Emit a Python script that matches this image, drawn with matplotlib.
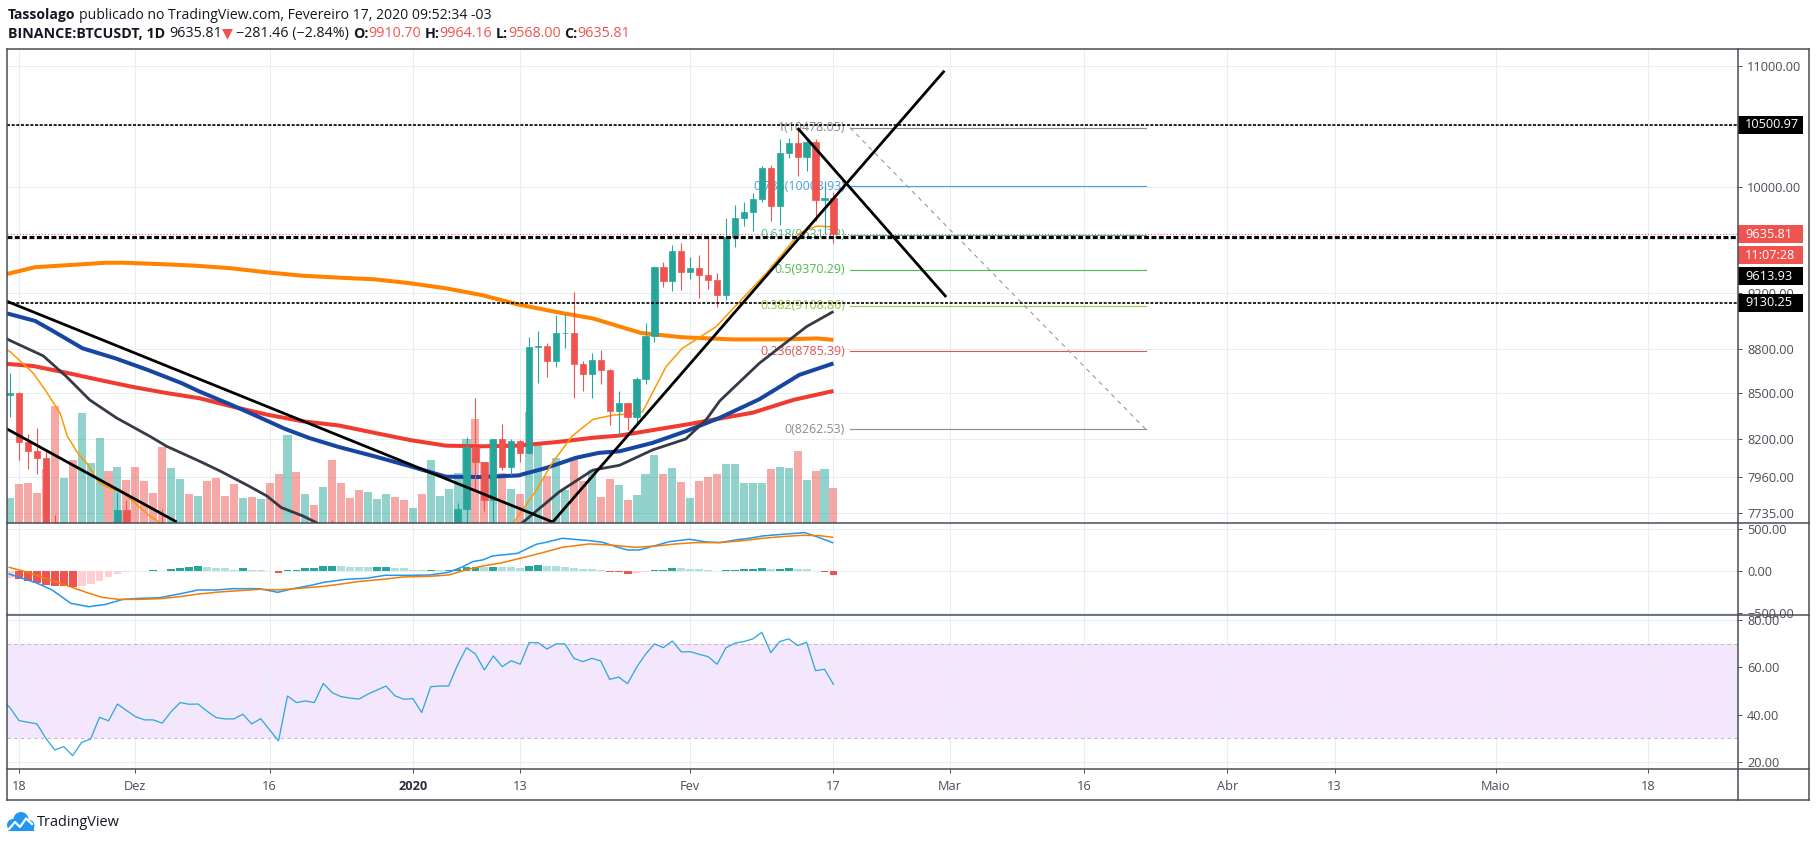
import datetime as dt
import numpy as np
import matplotlib
matplotlib.use("Agg")
import matplotlib.pyplot as plt
from matplotlib.patches import Rectangle, Circle, Polygon
from matplotlib.lines import Line2D
from matplotlib.ticker import NullLocator, NullFormatter
from matplotlib.transforms import blended_transform_factory, offset_copy, IdentityTransform

plt.rcParams['font.family'] = ['Open Sans', 'DejaVu Sans']

# ======================= DATA =======================
day0 = dt.date(2019, 11, 18)            # day index 0
first_candle = dt.date(2019, 11, 16)    # first daily candle

opens = [8460, 8491, 8502, 8178, 8125, 8080, 7617, 7290, 7321, 6900, 7111, 7163, 7523, 7430, 7755,
         7547, 7403, 7300, 7292, 7198, 7389, 7526, 7505, 7525, 7337, 7223, 7205, 7193, 7250, 7062, 7111,
         6881, 6612, 7277, 7151, 7190, 7145, 7512, 7317, 7255, 7205, 7195, 7247, 7303, 7386, 7221,
         7195, 7200, 6965, 7345, 7354, 7358, 7758, 8146, 8055, 7818, 8198, 8020, 8185, 8111, 8815, 8822,
         8720, 8914, 8916, 8700, 8630, 8725, 8660, 8385, 8435, 8340, 8600, 8890, 9390, 9285, 9505,
         9351, 9385, 9331, 9293, 9181, 9617, 9755, 9804, 9903, 10152, 9854, 10270, 10350, 10238, 10364,
         9900, 9910.70]
highs = [8540, 8638, 8510, 8230, 8270, 8125, 7725, 7353, 7337, 7372, 7344, 7655, 7650, 7860, 7818,
         7547, 7420, 7400, 7760, 7489, 7599, 7620, 7570, 7660, 7400, 7275, 7270, 7310, 7275, 7165, 7140,
         6944, 7440, 7380, 7220, 7190, 7518, 7695, 7436, 7272, 7435, 7267, 7365, 7518, 7408, 7320,
         7255, 7212, 7405, 7405, 7495, 7796, 8214, 8468, 8055, 8199, 8297, 8197, 8196, 8884, 8929, 8846,
         9042, 9050, 9208, 8720, 8776, 8792, 8666, 8518, 8435, 8608, 8985, 9400, 9425, 9557, 9570,
         9466, 9478, 9615, 9345, 9755, 9857, 9885, 9950, 10166, 10174, 10387, 10395, 10478, 10397, 10389,
         10050, 9964.16]
lows = [8411, 8342, 8064, 8006, 7980, 7510, 6791, 7100, 6860, 6515, 7007, 6861, 7360, 7405, 7500,
        7240, 7225, 7250, 7086, 7150, 7335, 7480, 7400, 7290, 7170, 7130, 7075, 7170, 7035, 7024, 6852,
        6560, 6435, 7040, 7080, 7100, 7120, 7265, 7157, 7128, 7157, 7057, 7238, 7273, 7220, 7145,
        7175, 6925, 6872, 7273, 7319, 7347, 7655, 7870, 7750, 7672, 8000, 7970, 8055, 8105, 8572, 8611,
        8675, 8810, 8467, 8515, 8470, 8560, 8292, 8220, 8255, 8288, 8560, 8852, 9240, 9211, 9224,
        9301, 9163, 9225, 9100, 9152, 9535, 9700, 9658, 9883, 9735, 9704, 10233, 10086, 10125, 9736,
        9640, 9568.00]
closes = [8491, 8502, 8178, 8125, 8080, 7617, 7290, 7321, 6900, 7111, 7163, 7523, 7430, 7755, 7547,
          7403, 7300, 7292, 7198, 7389, 7526, 7505, 7525, 7337, 7223, 7205, 7193, 7250, 7062, 7111, 6881,
          6612, 7277, 7151, 7190, 7145, 7512, 7317, 7255, 7205, 7195, 7247, 7303, 7386, 7221, 7195,
          7200, 6965, 7345, 7354, 7358, 7758, 8146, 8055, 7818, 8198, 8020, 8185, 8111, 8815, 8822, 8720,
          8914, 8916, 8700, 8630, 8725, 8660, 8385, 8435, 8340, 8600, 8890, 9390, 9285, 9505, 9351,
          9385, 9331, 9293, 9181, 9617, 9755, 9804, 9903, 10152, 9854, 10270, 10350, 10238, 10364, 9900,
          9917, 9635.81]
volume_k = [30, 25, 39, 40, 30, 54, 117, 45, 63, 110, 60, 85, 52, 56, 43,
            56, 42, 30, 76, 55, 44, 29, 27, 42, 45, 27, 39, 25, 26, 24, 40, 49, 88, 51, 29, 18, 36, 63,
            40, 25, 33, 31, 24, 29, 26, 23,
            15, 29, 63, 27, 34, 50, 84, 104, 61, 83, 50, 34, 29, 111, 79, 47, 65, 33, 64, 42, 53, 26, 44,
            38, 23, 28, 49, 68, 49, 55, 41,
            25, 42, 46, 49, 59, 59, 40, 40, 40, 54, 56, 55, 72, 43, 52, 54, 35]

rsi = [47.0, 42.9, 37.5, 36.8, 36.1, 30.0, 25.1, 26.5, 22.7, 28.3, 29.7, 38.9, 37.4, 44.5, 41.8,
       39.2, 37.8, 37.8, 36.4, 41.3, 45.1, 44.4, 44.5, 41.5, 38.8, 38.2, 38.2, 40.2, 36.1, 38.3, 33.6,
       28.9, 47.9, 45.1, 45.8, 45.1, 53.2, 49.3, 47.6, 47.0, 46.6, 48.7, 50.4, 52.1, 48.0, 46.5,
       46.8, 40.9, 51.8, 52.1, 52.1, 61.0, 68.3, 65.6, 58.9, 64.8, 60.3, 62.8, 61.3, 70.4, 70.4, 67.7,
       69.9, 69.9, 63.8, 62.4, 63.8, 62.7, 54.9, 55.9, 53.1, 60.0, 65.5, 69.9, 68.3, 71.1, 66.5,
       66.6, 65.5, 64.5, 61.3, 68.3, 70.2, 70.9, 72.0, 74.8, 66.2, 70.9, 72.0, 69.2, 70.6, 58.6,
       59.2, 52.8]
macd_hist = [-95, -85, -100, -117, -141, -169, -177, -180, -193, -181, -161, -117, -76, -36, -15,
             -5, 3, 10, 5, 20, 32, 48, 64, 48, 32, 32, 16, 32, 16, 16, -3,
             -28, 8, 16, 32, 34, 60, 62, 56, 44, 44, 44, 46, 48, 32, 32,
             16, 8, 16, 8, 16, 28, 48, 52, 44, 52, 48, 48, 40, 64, 72, 64,
             64, 52, 40, 24, 20, 10, -10, -16, -32, -28, -16, 8, 16, 36, 36,
             28, 28, 8, 0, 8, 16, 18, 24, 36, 24, 28, 36, 28, 28, -3,
             -16, -48]

macd_day = [-1.1, 0, 1.9, 3.7, 5.8, 7.8, 9.7, 11.6, 13.4, 15.7, 17.9, 20, 22, 23.9, 26.9, 28.9,
            30.6, 32.8, 34, 36.6, 38.8, 40.9, 44, 45.9, 48, 49.6, 50.7, 51.8, 52.9, 55.7, 57.8, 58.9,
            60.7, 61.9, 63.7, 65.2, 66.7, 68, 69.3, 70.4, 72.7, 74.9, 76.8, 78.3, 80.1, 81.6, 83.1,
            85.3, 87.8, 89.1, 90.9]
macd_val = [-36, -76, -141, -229, -390, -430, -402, -342, -330, -322, -277, -229, -229, -213, -213,
            -257, -213, -169, -137, -100, -88, -52, -52, -48, -16, 52, 113, 133, 181, 213, 322, 346,
            394, 382, 366, 346, 293, 253, 253, 285, 354, 382, 350, 342, 374, 394, 422, 442, 462, 414, 342]
signal_day = [-1.1, 0.7, 3, 5.2, 7.5, 9.3, 11.2, 13.4, 15.7, 17.9, 20.1, 22.4, 24.6, 26.9, 28.9,
              31.3, 33.6, 35.8, 38.1, 40.7, 42.9, 45.9, 48, 49.9, 51.8, 54, 56.3, 58.5, 60.7, 63.7,
              65.9, 68.9, 71.2, 73.4, 75.6, 78.3, 80.9, 83.1, 85.3, 87.5, 89.4, 90.9]
signal_val = [44, -8, -88, -169, -257, -318, -342, -342, -334, -310, -277, -253, -237, -221, -228,
              -209, -189, -160, -125, -100, -72, -64, -48, 12, 60, 100, 161, 221, 285, 326,
              314, 285, 301, 326, 342, 342, 366, 394, 414, 430, 426, 406]

# moving averages (day index, price)
ma_orange_day = [-1.5, 1.8, 5.7, 9.7, 11.7, 15.7, 19.7, 23.7, 27.7, 31.7, 35.7, 39.7, 43.7, 47.7,
                 51.7, 55.8, 60.4, 64.1, 69.5, 74.1, 79.7, 85.3, 89.1, 91]
ma_orange_val = [9335, 9388, 9404, 9421, 9421, 9411, 9399, 9380, 9350, 9325, 9311, 9299, 9270, 9233,
                 9184, 9116, 9058, 9017, 8914, 8884, 8869, 8869, 8876, 8866]
ma_blue_day = [-1.5, 1.8, 3.6, 7.1, 10.8, 14.4, 18.2, 20.1, 23.7, 26.5, 29.7, 32.5, 35.7, 39.7, 43.7,
               47.7, 51.7, 55.8, 58.9, 62.2, 64.8, 67.1, 70.8, 74.5, 78.3, 82.7, 87.2, 91]
ma_blue_val = [9055, 8999, 8935, 8807, 8737, 8658, 8568, 8514, 8424, 8351, 8266, 8205, 8149, 8089,
               8026, 7960, 7958, 7968, 8015, 8079, 8111, 8121, 8175, 8250, 8338, 8460, 8625, 8703]
ma_red_day = [-1.5, 1.6, 5.3, 9.0, 12.8, 16.5, 20.2, 23.7, 27.7, 31.7, 35.7, 39.7, 43.7, 47.7, 51.7,
              55.7, 60.4, 64.1, 67.1, 74.5, 82, 86.5, 91]
ma_red_val = [8700, 8685, 8639, 8590, 8542, 8502, 8467, 8414, 8359, 8315, 8288, 8240, 8193, 8157,
              8153, 8157, 8182, 8208, 8222, 8293, 8372, 8456, 8516]
ma_gray_day = [-1.5, -1.3, 2.7, 5.3, 7.9, 10.9, 14.6, 16.5, 20.2, 22.5, 25.7, 27.7, 29.3, 31.7, 33.5,
               40, 47, 52, 56.5, 60.4, 64.1, 67.1, 70.8, 74.5, 76.8, 78.3, 82.7, 88, 91]
ma_gray_val = [8880, 8870, 8755, 8613, 8456, 8337, 8218, 8153, 8057, 7995, 7901, 7840, 7769, 7718,
               7670, 7350, 7320, 7500, 7688, 7867, 8001, 8032, 8130, 8200, 8327, 8450, 8703, 8959, 9066]
ma_thin_day = [-1.5, -1, 1.6, 2.9, 4.6, 5.4, 6.55, 7.6, 9.0, 10.2, 11.7, 14.6, 16.0, 20, 30, 40, 48,
               53, 55.3, 57.8, 59.6, 61.8, 64.1, 66.3, 69, 69.7, 72.3, 74.1, 77.9, 83.5, 87.2, 89.1, 91]
ma_thin_val = [8800, 8784, 8636, 8525, 8368, 8218, 8111, 8043, 7920, 7889, 7857, 7718, 7670, 7300,
               7150, 7280, 7450, 7620, 7680, 7876, 8048, 8218, 8327, 8355, 8368, 8380, 8681, 8806,
               8959, 9344, 9642, 9697, 9690]

# drawings: trend lines (day, price) pairs
trend_lines = [((-1.5, 9143), (59.63, 7681)),
               ((-1.5, 8270), (17.62, 7681)),
               ((59.63, 7681), (103.4, 10959)),
               ((87.0, 10475), (103.6, 9170))]
hlines_thin = [10500.97, 9130.25]
hline_thick = 9613.93
last_price = 9635.81
countdown = "11:07:28"

fib_ratio = ['0', '0.236', '0.382', '0.5', '0.618', '0.786', '1']
fib_price = [8262.53, 8785.39, 9108.86, 9370.29, 9631.72, 10003.93, 10478.05]
fib_day = (92.85, 125.9)

price_ticks = [11000, 10500, 10000, 9600, 9200, 8800, 8500, 8200, 7960, 7735]
hidden_price_ticks = [10500, 9600]     # labels covered by the line-label boxes
macd_ticks = [500, 0, -500]
rsi_ticks = [80, 60, 40, 20]
tick_dates = [dt.date(2019, 11, 18), dt.date(2019, 12, 1), dt.date(2019, 12, 16), dt.date(2020, 1, 1),
              dt.date(2020, 1, 13), dt.date(2020, 2, 1), dt.date(2020, 2, 17), dt.date(2020, 3, 1),
              dt.date(2020, 3, 16), dt.date(2020, 4, 1), dt.date(2020, 4, 13), dt.date(2020, 5, 1),
              dt.date(2020, 5, 18)]
tick_labels = ['18', 'Dez', '16', '2020', '13', 'Fev', '17', 'Mar', '16', 'Abr', '13', 'Maio', '18']

# ======================= LAYOUT / STYLE =======================
W, H, DPI = 1817, 842, 100
PL, PR, FR = 7, 1738, 1809
Y_TOP, Y_MACD, Y_RSI, Y_TIME, Y_BOT = 49, 523, 615, 769, 800
X_DAY0, PX_PER_DAY = 19.0, 8.95
VOL_FULL = 474.0
UP, DN = '#26a69a', '#ef5350'
GRID = '#e6edf3'
TXT = '#4a4d57'
FRAME = '#4a4d57'
LBL = 9.2

fig = plt.figure(figsize=(W / DPI, H / DPI), dpi=DPI)
fig.patch.set_facecolor('white')


def frac_rect(x0, y0, x1, y1):
    return [x0 / W, 1 - y1 / H, (x1 - x0) / W, (y1 - y0) / H]


xlim = ((PL - X_DAY0) / PX_PER_DAY, (PR - X_DAY0) / PX_PER_DAY)
ax = fig.add_axes(frac_rect(PL, Y_TOP, PR, Y_MACD))
axm = fig.add_axes(frac_rect(PL, Y_MACD, PR, Y_RSI))
axr = fig.add_axes(frac_rect(PL, Y_RSI, PR, Y_TIME))

tick_days = [(d - day0).days for d in tick_dates]
days = np.arange(len(opens)) + (first_candle - day0).days
o, h, l, c = map(np.asarray, (opens, highs, lows, closes))
up = c >= o
cols = np.where(up, UP, DN)

ax.set_yscale('log')
for a in (ax, axm, axr):
    a.set_xlim(*xlim)
    for s in a.spines.values():
        s.set_visible(False)
    a.set_xticks(tick_days)
    a.tick_params(axis='x', length=0, labelbottom=False)
    a.yaxis.tick_right()
    a.tick_params(axis='y', which='major', length=3, width=0.7, color=TXT, pad=3.5,
                  labelsize=LBL, labelcolor=TXT)
    a.grid(True, color=GRID, lw=0.8)
    a.set_axisbelow(True)
    a.set_facecolor('white')

# ---- main price panel ----
ax.set_ylim(7675, 11148)
ax.set_yticks(price_ticks, labels=['' if p in hidden_price_ticks else f"{p:.2f}" for p in price_ticks])
ax.yaxis.set_minor_locator(NullLocator())
ax.yaxis.set_minor_formatter(NullFormatter())

vol_tr = blended_transform_factory(ax.transData, ax.transAxes)
for d, v, u in zip(days, volume_k, up):
    ax.add_patch(Rectangle((d - 0.45, 0), 0.9, v / VOL_FULL, transform=vol_tr,
                           facecolor=UP if u else DN, alpha=0.5, edgecolor='none', zorder=1))

# fibonacci retracement
fib_cols = ['#8c8c8c', '#e05555', '#94c83e', '#4cbb4c', '#4dbf8f', '#4a9fe0', '#8c8c8c']
lab_tr = offset_copy(ax.transData, fig=fig, x=-5, y=0, units='dots')
for r, p, col in zip(fib_ratio, fib_price, fib_cols):
    ax.plot(fib_day, [p, p], color=col, lw=0.8, zorder=1.5)
    ax.text(fib_day[0], p, f"{r}({p:.2f})", transform=lab_tr, ha='right', va='center',
            fontsize=8.9, color=col, zorder=1.6)
ax.plot(fib_day, [fib_price[-1], fib_price[0]], color='#9a9a9a', lw=0.8, dashes=(4, 4), zorder=1.5)

# moving averages
ax.plot(ma_orange_day, ma_orange_val, color='#ff8200', lw=2.9, zorder=2, solid_capstyle='butt')
ax.plot(ma_red_day, ma_red_val, color='#f23b30', lw=2.9, zorder=2.1, solid_capstyle='butt')
ax.plot(ma_blue_day, ma_blue_val, color='#1746a2', lw=2.9, zorder=2.2, solid_capstyle='butt')
ax.plot(ma_gray_day, ma_gray_val, color='#363a45', lw=2.0, zorder=2.3, solid_capstyle='butt')
ax.plot(ma_thin_day, ma_thin_val, color='#ff9800', lw=1.1, zorder=2.4)

# candles
ax.vlines(days, l, h, colors=cols, lw=0.8, zorder=3)
ax.bar(days, np.abs(c - o), bottom=np.minimum(o, c), width=0.7, color=cols, edgecolor=cols,
       lw=0.5, zorder=3.1)

# drawings
for (d0, p0), (d1, p1) in trend_lines:
    ax.plot([d0, d1], [p0, p1], color='black', lw=2.0, zorder=4, solid_capstyle='butt')
for p in hlines_thin:
    ax.axhline(p, color='black', lw=1.2, dashes=(1.8, 1.0), zorder=4)
ax.axhline(hline_thick, color='black', lw=2.2, dashes=(1.6, 0.8), zorder=4)
ax.axhline(last_price, color=DN, lw=0.75, dashes=(1, 2), zorder=4.5)

# ---- MACD panel ----
axm.set_ylim(-530, 578)
axm.set_yticks(macd_ticks, labels=['500.00', '0.00', '\u2212500.00'])
hist_cols = []
for i, v in enumerate(macd_hist):
    prev = macd_hist[i - 1] if i > 0 else v
    if v >= 0:
        hist_cols.append('#26a69a' if v > prev else '#b2dfdb')
    else:
        hist_cols.append('#ffcdd2' if v > prev else '#ef5350')
axm.bar(days, macd_hist, width=0.88, color=hist_cols, zorder=2)
axm.plot(macd_day, macd_val, color='#2196f3', lw=1.1, zorder=3)
axm.plot(signal_day, signal_val, color='#f57c00', lw=1.1, zorder=3)

# ---- RSI panel ----
axr.set_ylim(17.05, 82.1)
axr.set_yticks(rsi_ticks, labels=[f"{v:.2f}" for v in rsi_ticks])
axr.axhspan(30, 70, color='#f3e6fd', zorder=0.1, lw=0)
for lv in (30, 70):
    axr.axhline(lv, color='#c2b5cf', lw=0.8, dashes=(3, 3), zorder=0.6)
axr.plot(days, rsi, color='#2aa7dc', lw=0.9, zorder=3)
axr.tick_params(axis='x', length=3, width=0.7, color=TXT, labelbottom=True, pad=5,
                labelsize=LBL, labelcolor=TXT)
axr.set_xticklabels(tick_labels)
for t in axr.get_xticklabels():
    if t.get_text() == '2020':
        t.set_fontweight('bold')
        t.set_color('#2a2e39')

# ---- frame lines ----
def hl(y, x0, x1):
    fig.add_artist(Line2D([x0 / W, x1 / W], [1 - y / H, 1 - y / H], transform=fig.transFigure,
                          color=FRAME, lw=1.1, zorder=20))


def vl(x, y0, y1):
    fig.add_artist(Line2D([x / W, x / W], [1 - y0 / H, 1 - y1 / H], transform=fig.transFigure,
                          color=FRAME, lw=1.1, zorder=20))


for yy in (Y_TOP, Y_MACD, Y_RSI, Y_TIME, Y_BOT):
    hl(yy, PL, FR)
for xx in (PL, PR, FR):
    vl(xx, Y_TOP, Y_BOT)

# ---- price axis label boxes ----
BOX_W, BOX_H = 65, 18


def ydisp(price):
    return ax.transData.transform((0, price))[1]


def axis_box(yc, text, face):
    fig.add_artist(Rectangle((PR, yc - BOX_H / 2), BOX_W, BOX_H, transform=IdentityTransform(),
                             facecolor=face, edgecolor='none', zorder=10))
    fig.text((PR + 7) / W, yc / H, text, color='white', fontsize=LBL, va='center', ha='left',
             zorder=11)


axis_box(ydisp(hlines_thin[0]), f"{hlines_thin[0]:.2f}", 'black')
axis_box(ydisp(hlines_thin[1]), f"{hlines_thin[1]:.2f}", 'black')
y_last = ydisp(last_price)
axis_box(y_last, f"{last_price:.2f}", DN)
y_cd = y_last - BOX_H - 3
axis_box(y_cd, countdown, DN)
axis_box(y_cd - BOX_H - 3, f"{hline_thick:.2f}", 'black')

# ---- header (rich text) ----
renderer = fig.canvas.get_renderer()
DARK = '#131722'


def rich_line(x0, yc, pieces, target_w, size=10.0):
    def layout(sz):
        arts = []
        x = x0
        for txt, wt, col, sp in pieces:
            x += sp * 0.26 * sz * DPI / 72
            t = fig.text(x / W, 1 - yc / H, txt, fontsize=sz, fontweight=wt, color=col,
                         ha='left', va='center')
            arts.append(t)
            x += t.get_window_extent(renderer).width
        return arts, x - x0
    arts, w = layout(size)
    for a in arts:
        a.remove()
    layout(size * target_w / w)


rich_line(8, 15.5, [("Tassolago", 'bold', DARK, 0),
                    ("publicado no TradingView.com, Fevereiro 17, 2020 09:52:34 -03", 'normal', DARK, 1)],
          483)
rich_line(8, 33.5, [("BINANCE:BTCUSDT, 1D", 'bold', DARK, 0),
                    ("9635.81", 'normal', DARK, 1), ("\u25bc", 'normal', DN, 0),
                    ("\u2212281.46 (\u22122.84%)", 'normal', DARK, 1),
                    ("O:", 'bold', DARK, 1), ("9910.70", 'normal', DN, 0),
                    ("H:", 'bold', DARK, 1), ("9964.16", 'normal', DN, 0),
                    ("L:", 'bold', DARK, 1), ("9568.00", 'normal', DN, 0),
                    ("C:", 'bold', DARK, 1), ("9635.81", 'normal', DN, 0)],
          619)

# ---- TradingView logo ----
def P(x, y):
    return (x, H - y)


LOGO = '#2196f3'
for (cx, cy, r) in [(13, 825, 6), (21, 819.5, 7.5), (29, 825.5, 5.5)]:
    fig.add_artist(Circle(P(cx, cy), r, transform=IdentityTransform(), facecolor=LOGO,
                          edgecolor='none', zorder=5))
fig.add_artist(Rectangle(P(8, 831), 26, 6, transform=IdentityTransform(), facecolor=LOGO,
                         edgecolor='none', zorder=5))
zig = [P(9, 829), P(15, 822), P(20, 827), P(26, 818.5), P(32, 824)]
fig.add_artist(Line2D([p[0] for p in zig], [p[1] for p in zig], transform=IdentityTransform(),
                      color='white', lw=1.6, zorder=6))
rich_line(37, 822, [("TradingView", 'normal', DARK, 0)], 83)

fig.savefig('out.png', dpi=DPI)
